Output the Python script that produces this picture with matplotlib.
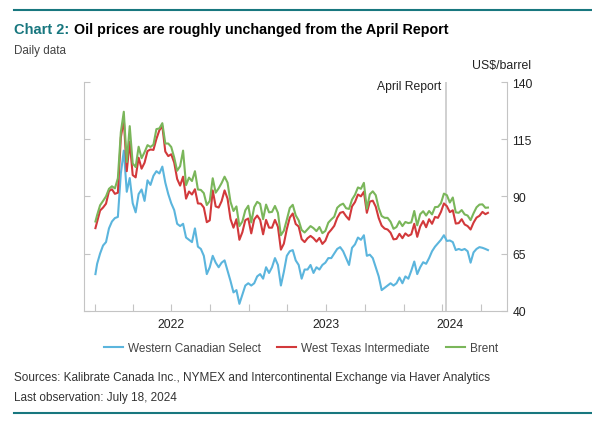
import pandas as pd
import matplotlib.pyplot as plt
import matplotlib.dates as mdates
from matplotlib.transforms import blended_transform_factory

plt.rcParams['font.family'] = ['Liberation Sans', 'DejaVu Sans']

# Weekly readings (Friday closes), first obs Jan 3, 2022, last obs Jul 18, 2024
start_date = '2022-01-03'
end_date = '2024-07-18'
fridays = pd.date_range('2022-01-07', '2024-07-12', freq='W-FRI')

brent_2022 = [79.0,
              81.8, 86.1, 88.0, 90.0,
              93.3, 94.4, 93.5, 97.9,
              118.1, 127.0, 105.0, 120.7,
              104.4, 102.8, 111.7, 106.7, 109.3,
              112.4, 111.6, 112.6, 119.4,
              119.7, 122.0, 113.1, 113.1,
              111.6, 107.0, 101.2, 103.2, 110.0,
              94.9, 98.2, 96.7, 101.0,
              93.0, 92.8, 91.4, 86.2, 88.0,
              97.9, 91.6, 93.5, 95.8,
              98.6, 96.0, 87.6, 83.6,
              85.6, 77.0, 79.0, 83.9, 85.9]
brent_2023 = [78.6, 85.3, 87.6, 86.7,
              80.0, 86.4, 83.0, 83.2,
              85.8, 82.8, 73.0, 75.0, 79.8,
              84.9, 86.3, 81.7, 79.5,
              75.3, 74.2, 75.6, 77.0,
              76.1, 74.8, 76.6, 73.9, 74.9,
              78.5, 79.9, 81.1, 85.0,
              86.2, 86.8, 84.8, 84.5,
              88.6, 90.7, 93.9, 93.3, 95.9,
              84.6, 90.9, 92.2, 90.5,
              84.9, 81.4, 80.6, 80.6,
              78.9, 75.8, 76.6, 79.1, 77.0]
brent_2024 = [78.8, 78.3, 78.6, 83.6,
              77.3, 82.2, 83.5, 81.6,
              83.6, 82.1, 85.3, 85.4, 87.0,
              91.2, 90.5, 87.3, 89.5,
              83.0, 82.8, 84.0, 82.1, 81.6,
              79.6, 82.6, 85.2, 86.4,
              86.5, 85.0,
              85.1]

wti_2022 = [76.1,
            78.9, 83.8, 85.1, 86.8,
            92.3, 93.1, 91.1, 91.6,
            115.7, 123.7, 101.0, 113.9,
            99.3, 98.3, 106.9, 102.1, 104.7,
            109.8, 110.5, 110.3, 115.1,
            118.9, 120.7, 109.6, 107.6,
            108.4, 104.8, 97.6, 94.7, 98.6,
            89.0, 92.1, 90.8, 93.1,
            86.9, 86.8, 85.1, 78.7, 79.5,
            92.6, 85.6, 85.1, 87.9,
            92.6, 89.0, 80.1, 76.3,
            80.0, 71.0, 74.3, 79.6, 80.3]
wti_2023 = [73.8, 79.9, 81.6, 79.7,
            73.4, 79.7, 76.3, 76.3,
            79.7, 76.7, 66.7, 69.3, 75.7,
            80.7, 82.5, 77.9, 76.8,
            71.3, 70.0, 71.7, 72.7,
            71.7, 70.2, 71.8, 69.2, 70.6,
            73.9, 75.4, 77.1, 80.6,
            82.8, 83.2, 81.3, 79.8,
            85.6, 87.5, 90.8, 90.0, 92.0,
            82.8, 87.7, 88.1, 85.5,
            80.5, 77.2, 75.9, 75.5,
            74.1, 71.2, 71.4, 73.6, 71.7]
wti_2024 = [73.8, 72.7, 73.4, 78.0,
            72.3, 76.8, 79.2, 76.5,
            80.0, 78.0, 81.0, 80.6, 83.2,
            86.9, 85.7, 83.1, 83.9,
            78.1, 78.3, 80.0, 77.7, 77.0,
            75.5, 78.5, 80.7, 81.5,
            83.2, 82.2,
            82.8]

wcs_2022 = [56.0,
            60.5, 65.0, 68.5, 70.0,
            76.0, 79.0, 80.5, 81.0,
            100.0, 110.0, 92.0, 98.0,
            87.0, 83.0, 91.0, 93.0, 88.0,
            97.0, 95.0, 99.0, 101.0,
            100.0, 103.0, 96.0, 91.0,
            87.0, 84.0, 78.0, 77.0, 78.0,
            72.0, 71.0, 70.0, 76.0,
            68.0, 67.0, 64.0, 56.0, 59.0,
            64.0, 61.0, 59.0, 61.0,
            62.0, 57.5, 53.0, 48.0,
            49.0, 43.0, 47.0, 51.0, 52.0]
wcs_2023 = [51.0, 52.0, 55.0, 56.0,
            54.0, 59.0, 56.5, 59.0,
            63.0, 60.0, 51.0, 57.0, 64.0,
            66.0, 66.5, 62.0, 60.0,
            54.0, 58.0, 58.0, 60.0,
            56.5, 59.0, 58.0, 60.0, 61.0,
            63.0, 63.0, 65.0, 67.0,
            67.8, 66.0, 63.0, 60.0,
            67.5, 69.0, 72.0, 71.0, 73.0,
            64.0, 64.5, 63.0, 59.0,
            55.0, 49.0, 50.0, 51.0,
            52.0, 51.0, 52.0, 54.5, 52.0]
wcs_2024 = [55.0, 54.0, 57.5, 61.5,
            56.0, 59.0, 61.2, 60.5,
            63.0, 66.0, 68.0, 69.5, 71.0,
            73.0, 70.5, 70.7, 70.0,
            66.5, 67.0, 66.5, 67.0, 66.0,
            61.0, 65.5, 67.0, 67.8,
            67.5, 67.0,
            66.5]

dates = pd.DatetimeIndex([pd.Timestamp(start_date)]).append(fridays).append(
    pd.DatetimeIndex([pd.Timestamp(end_date)]))
brent = brent_2022 + brent_2023 + brent_2024
wti = wti_2022 + wti_2023 + wti_2024
wcs = wcs_2022 + wcs_2023 + wcs_2024

teal = '#18777f'
blue = '#5bb5dd'
red = '#d2393b'
green = '#7ab65a'
axis_grey = '#c4c4c4'
W, H = 592, 427

fig = plt.figure(figsize=(W / 100, H / 100), dpi=100)
ax = fig.add_axes([84 / W, 1 - 311.7 / H, (507 - 84) / W, (311.7 - 83) / H])

ax.plot(dates, wcs, color=blue, lw=1.5, label='Western Canadian Select')
ax.plot(dates, wti, color=red, lw=1.5, label='West Texas Intermediate')
ax.plot(dates, brent, color=green, lw=1.5, label='Brent')

april = pd.Timestamp('2024-04-10')
ax.axvline(april, color='#c8c8c8', lw=1.2, zorder=0)
ax.text(april - pd.Timedelta(days=11), 140 - 1.7, 'April Report', ha='right',
        va='center', fontsize=8.7, color='#222222')

ax.set_xlim(pd.Timestamp('2021-12-07'), pd.Timestamp('2024-09-01'))
ax.set_ylim(40, 140)
ax.set_yticks([40, 65, 90, 115, 140])
ax.xaxis.set_major_locator(mdates.MonthLocator(bymonth=[1, 4, 7, 10]))
ax.xaxis.set_major_formatter(plt.NullFormatter())

for side in ['left', 'right', 'bottom']:
    ax.spines[side].set_color(axis_grey)
ax.spines['top'].set_visible(False)
ax.tick_params(axis='y', left=True, right=True, labelleft=False, labelright=True,
               direction='in', length=4, color=axis_grey, labelsize=8.7,
               labelcolor='#222222', pad=4)
ax.tick_params(axis='x', direction='in', length=5, color=axis_grey)

trans = blended_transform_factory(ax.transData, ax.transAxes)
for yr, pos in [('2022', '2022-07-01'), ('2023', '2023-07-01'), ('2024', '2024-04-20')]:
    ax.text(pd.Timestamp(pos), -0.056, yr, transform=trans, ha='center',
            va='center', fontsize=8.7, color='#222222')

fig.text(531.5 / W, 1 - 65.7 / H, 'US$/barrel', ha='right', va='center',
         fontsize=8.8, color='#222222')

fig.legend(loc='center', bbox_to_anchor=(301 / W, 1 - 349 / H), ncol=3,
           frameon=False, fontsize=8.5, handlelength=1.6, handletextpad=0.4,
           columnspacing=1.4, labelcolor='#444444')

# header and footer
fig.add_artist(plt.Line2D([14 / W, 1], [1 - 11 / H] * 2, color=teal, lw=1.5))
fig.add_artist(plt.Line2D([14 / W, 1], [1 - 414 / H] * 2, color=teal, lw=1.5))

t1 = fig.text(14 / W, 1 - 34.3 / H, 'Chart 2:', color=teal, fontsize=10.5,
              fontweight='bold', va='baseline')
fig.canvas.draw()
bb = t1.get_window_extent()
fig.text((bb.x1 + 4.5) / W, 1 - 34.3 / H,
         'Oil prices are roughly unchanged from the April Report',
         color='black', fontsize=10.3, fontweight='bold', va='baseline')
fig.text(14 / W, 1 - 54 / H, 'Daily data', fontsize=8.4, color='#444444',
         va='baseline')
fig.text(14 / W, 1 - 378 / H,
         'Sources: Kalibrate Canada Inc., NYMEX and Intercontinental Exchange via Haver Analytics',
         fontsize=8.45, color='#333333', va='center')
fig.text(14 / W, 1 - 398 / H, 'Last observation: July 18, 2024', fontsize=8.45,
         color='#333333', va='center')

fig.savefig('out.png', dpi=100)
